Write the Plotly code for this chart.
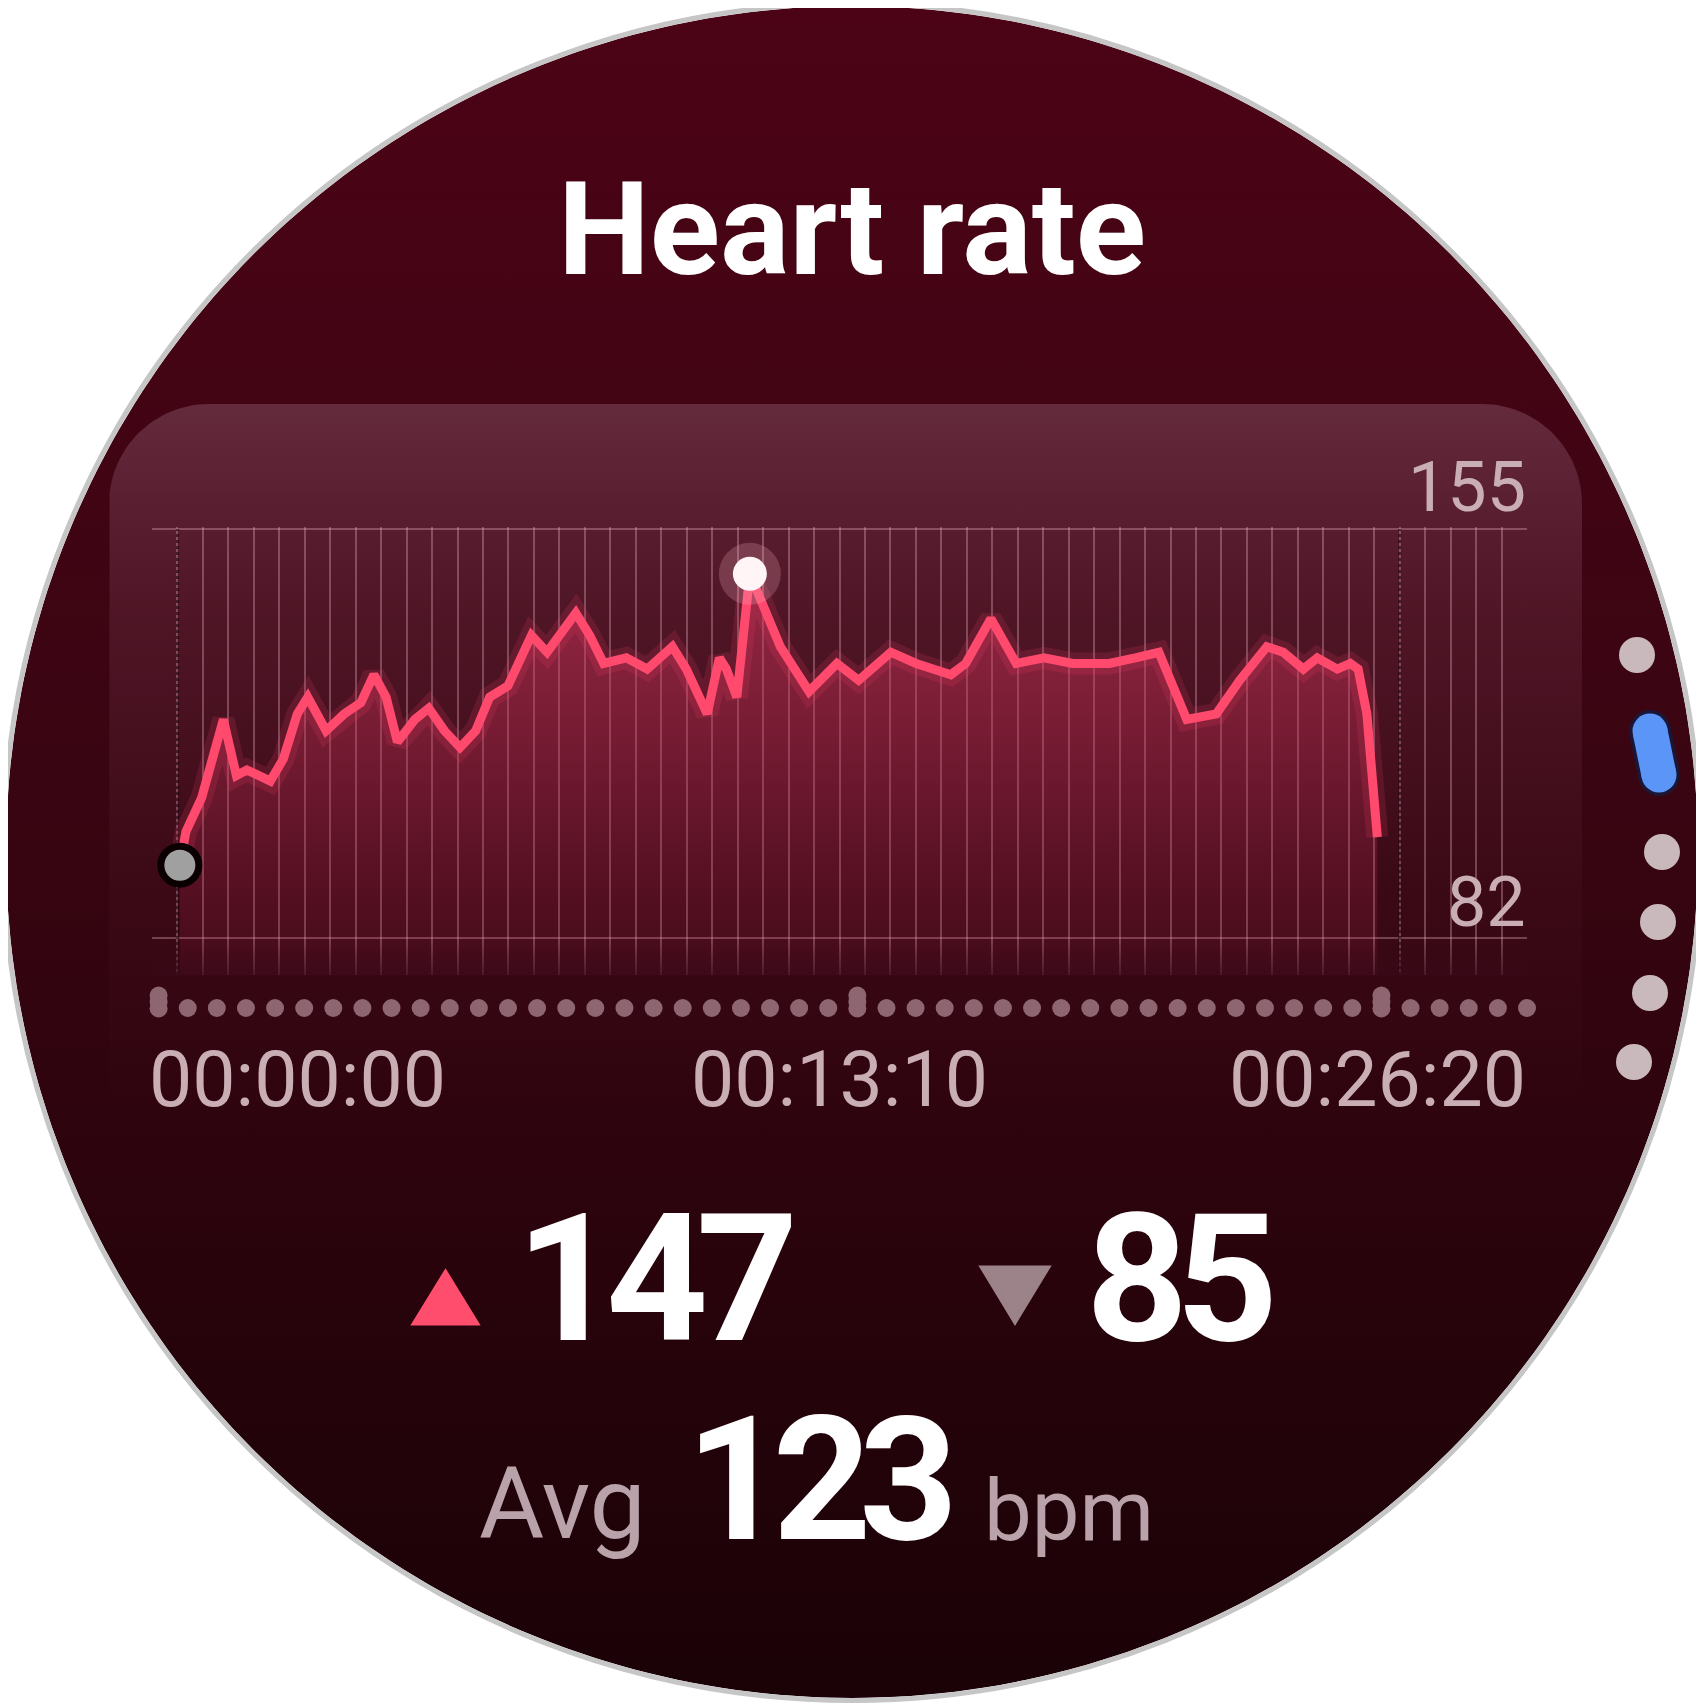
import numpy as np
import plotly.graph_objects as go

# ---------------- data ----------------
time_s = [32, 39, 57, 82, 97, 109, 136, 151, 167, 179, 200, 221, 240, 255, 269, 282,
          302, 318, 336, 354, 372, 388, 409, 422, 436, 454, 469, 487, 503, 519, 545,
          569, 598, 614, 638, 652, 660, 672, 687, 701, 722, 755, 787, 812, 849, 878,
          918, 935, 964, 993, 1025, 1058, 1080, 1100, 1130, 1157, 1189, 1223, 1250,
          1281, 1300, 1323, 1339, 1362, 1377, 1386, 1396, 1408]
heart_bpm = [95, 101, 107, 121, 111, 112, 110, 114, 122, 125, 119, 122, 124, 129, 125, 117,
             121, 123, 119, 116, 119, 125, 127, 131, 136, 133, 136, 140, 136, 131, 132,
             130, 134, 130, 122, 132, 130, 125, 147, 142, 134, 126, 131, 128, 133, 131,
             129, 131, 139, 131, 132, 131, 131, 131, 132, 133, 121, 122, 128,
             134, 133, 130, 132, 130, 131, 130, 122, 100]
y_ticks = [82, 155]
time_ticks = [0, 790, 1580]
time_labels = ["00:00:00", "00:13:10", "00:26:20"]
stat_max = 147
stat_min = 85
stat_avg = 123
title_text = "Heart rate"

# ---------------- geometry / style ----------------
W = 1704
OFF = 8                      # page body margin of the html page
CX = CY = 852
R = 846
X_MAX = 1580
N_GRID = 54
PXB = 409 / 73               # pixels per bpm
Y_MAX = 155.4
Y_MIN = 82 - (975 - 938) / PXB
PLOT_L, PLOT_R = 152, 1527
PLOT_T = 529 - (Y_MAX - 155) * PXB
PLOT_B = 975

LABEL_COL = "#c9aeb6"
LINE_COL = "#ff4a6e"
NUM_FONT = "Roboto"


def pxx(sx):      # screen x -> paper
    return (sx - OFF) / W


def pxy(sy):      # screen y -> paper
    return 1 - (sy - OFF) / W


def tight(txt, sp):
    return '<span style="letter-spacing:%dpx">%s</span>' % (sp, txt)


fig = go.Figure()

# --- watch face background (decoration axis, screen pixel coords) ---
th = np.linspace(0, 2 * np.pi, 361)
fig.add_trace(go.Scatter(
    x=CX + R * np.cos(th), y=CY + R * np.sin(th), mode="lines",
    line=dict(width=0), fill="toself",
    fillgradient=dict(type="vertical", start=0, stop=W,
                      colorscale=[[0, "#4c0316"], [0.45, "#3a0512"], [1, "#1a0207"]]),
    hoverinfo="skip", showlegend=False, xaxis="x", yaxis="y"))

# --- chart panel with rounded top corners ---
px0, px1, py0, py1, pr = 109, 1582, 404, 1120, 100
a1 = np.linspace(np.pi, 1.5 * np.pi, 30)
a2 = np.linspace(1.5 * np.pi, 2 * np.pi, 30)
pxs = [px0] + list(px0 + pr + pr * np.cos(a1)) + list(px1 - pr + pr * np.cos(a2)) + [px1, px0]
pys = [py1] + list(py0 + pr + pr * np.sin(a1)) + list(py0 + pr + pr * np.sin(a2)) + [py1, py1]
fig.add_trace(go.Scatter(
    x=pxs, y=pys, mode="lines", line=dict(width=0), fill="toself",
    fillgradient=dict(type="vertical", start=py0, stop=py1,
                      colorscale=[[0, "rgba(150,100,122,0.40)"], [0.3, "rgba(140,80,105,0.22)"],
                                  [0.65, "rgba(140,80,105,0.07)"], [1, "rgba(140,80,105,0)"]]),
    hoverinfo="skip", showlegend=False, xaxis="x", yaxis="y"))

# --- page indicator on the right ---
ind_x = [1637, 1662, 1658, 1650, 1634]
ind_y = [655, 852, 922, 993, 1062]
fig.add_trace(go.Scatter(x=ind_x, y=ind_y, mode="markers",
                         marker=dict(size=36, color="#c9b8bc"),
                         hoverinfo="skip", showlegend=False, xaxis="x", yaxis="y"))
pill_x = [1650, 1659]
pill_y = [731, 775]
for w, col in [(42, "#1c1636"), (35, "#5b95f7")]:
    fig.add_trace(go.Scatter(x=pill_x, y=pill_y, mode="lines+markers",
                             line=dict(width=w, color=col), marker=dict(size=w, color=col),
                             hoverinfo="skip", showlegend=False, xaxis="x", yaxis="y"))

# ---------------- chart (x2 / y2) ----------------
fig.add_trace(go.Scatter(
    x=time_s, y=heart_bpm, mode="lines", line=dict(width=0), fill="tozeroy",
    fillgradient=dict(type="vertical", start=Y_MIN, stop=max(heart_bpm),
                      colorscale=[[0, "rgba(190,40,80,0.10)"], [1, "rgba(220,55,95,0.50)"]]),
    hoverinfo="skip", showlegend=False, xaxis="x2", yaxis="y2"))

# fade of grid at the bottom of plot
fig.add_trace(go.Scatter(
    x=[0, X_MAX, X_MAX, 0, 0], y=[Y_MIN, Y_MIN, 81.5, 81.5, Y_MIN], mode="lines",
    line=dict(width=0), fill="toself",
    fillgradient=dict(type="vertical", start=Y_MIN, stop=81.5,
                      colorscale=[[0, "rgba(58,9,24,0.7)"], [1, "rgba(58,9,24,0)"]]),
    hoverinfo="skip", showlegend=False, xaxis="x2", yaxis="y2"))

# line glow + line
fig.add_trace(go.Scatter(x=time_s, y=heart_bpm, mode="lines",
                         line=dict(width=22, color="rgba(255,70,110,0.15)"),
                         hoverinfo="skip", showlegend=False, xaxis="x2", yaxis="y2"))
fig.add_trace(go.Scatter(x=time_s, y=heart_bpm, mode="lines",
                         line=dict(width=9, color=LINE_COL),
                         hoverinfo="skip", showlegend=False, xaxis="x2", yaxis="y2"))

# max point
imax = int(np.argmax(heart_bpm))
fig.add_trace(go.Scatter(x=[time_s[imax]], y=[heart_bpm[imax]], mode="markers",
                         marker=dict(size=62, color="rgba(255,180,200,0.22)"),
                         hoverinfo="skip", showlegend=False, xaxis="x2", yaxis="y2", cliponaxis=False))
fig.add_trace(go.Scatter(x=[time_s[imax]], y=[heart_bpm[imax]], mode="markers",
                         marker=dict(size=34, color="#fff4f6"),
                         hoverinfo="skip", showlegend=False, xaxis="x2", yaxis="y2", cliponaxis=False))
# start point
fig.add_trace(go.Scatter(x=[time_s[0]], y=[heart_bpm[0]], mode="markers",
                         marker=dict(size=38, color="#a0a0a0", line=dict(color="#0a0002", width=7)),
                         hoverinfo="skip", showlegend=False, xaxis="x2", yaxis="y2", cliponaxis=False))

# dotted time track under the chart (x3 / y3 : same time scale, thin band)
DOT_COUNT = 48
dot_t = np.linspace(7.6, X_MAX, DOT_COUNT)
tall_idx = [0, 24, 42]
small_t = [t for i, t in enumerate(dot_t) if i not in tall_idx]
fig.add_trace(go.Scatter(x=small_t, y=[0.54] * len(small_t), mode="markers",
                         marker=dict(size=18, color="#8e6672"), cliponaxis=False,
                         hoverinfo="skip", showlegend=False, xaxis="x3", yaxis="y3"))
tall_t = [dot_t[i] for i in tall_idx]
for yy in (0.79, 0.66, 0.53):
    fig.add_trace(go.Scatter(x=tall_t, y=[yy] * len(tall_t), mode="markers",
                             marker=dict(size=18, color="#8e6672"), cliponaxis=False,
                             hoverinfo="skip", showlegend=False, xaxis="x3", yaxis="y3"))

# ---------------- annotations ----------------
ann = []
ann.append(dict(text=title_text, x=pxx(852), y=pxy(229), xref="paper", yref="paper",
                xanchor="center", yanchor="middle", showarrow=False, borderpad=0,
                font=dict(family="Roboto", size=130, color="white", weight="bold")))
ylab_shift = [-6, 0]
for v, ys in zip(y_ticks, ylab_shift):
    ann.append(dict(text=str(v), x=X_MAX, y=v, xref="x2", yref="y2",
                    xanchor="right", yanchor="bottom", yshift=ys, showarrow=False, borderpad=0,
                    font=dict(family="Roboto", size=70, color=LABEL_COL)))
anchors = ["left", "center", "right"]
for t, lab, a in zip(time_ticks, time_labels, anchors):
    ann.append(dict(text=lab, x=t, y=pxy(1080), xref="x2", yref="paper",
                    xanchor=a, yanchor="middle", showarrow=False, borderpad=0,
                    xshift=(-4 if a == "left" else 0),
                    font=dict(family="Roboto", size=77, color=LABEL_COL)))
ann.append(dict(text=tight(stat_max, -12), x=pxx(515), y=pxy(1279), xref="paper", yref="paper",
                xanchor="left", yanchor="middle", showarrow=False, borderpad=0,
                font=dict(family=NUM_FONT, size=178, color="white", weight="bold")))
ann.append(dict(text=tight(stat_min, -12), x=pxx(1085), y=pxy(1279), xref="paper", yref="paper",
                xanchor="left", yanchor="middle", showarrow=False, borderpad=0,
                font=dict(family=NUM_FONT, size=178, color="white", weight="bold")))
ann.append(dict(text="Avg", x=pxx(478), y=pxy(1503), xref="paper", yref="paper",
                xanchor="left", yanchor="middle", showarrow=False, borderpad=0,
                font=dict(family="Roboto", size=100, color="#b9a2aa")))
ann.append(dict(text=tight(stat_avg, -12), x=pxx(685), y=pxy(1480), xref="paper", yref="paper",
                xanchor="left", yanchor="middle", showarrow=False, borderpad=0,
                font=dict(family=NUM_FONT, size=172, color="white", weight="bold")))
ann.append(dict(text="bpm", x=pxx(983), y=pxy(1511), xref="paper", yref="paper",
                xanchor="left", yanchor="middle", showarrow=False, borderpad=0,
                font=dict(family="Roboto", size=85, color="#b9a2aa")))

# ---------------- layout ----------------
grid_col = "rgba(235,175,195,0.34)"
shapes = [
    dict(type="circle", xref="x", yref="y", x0=CX - 848.5, x1=CX + 848.5,
         y0=CY - 848.5, y1=CY + 848.5, line=dict(color="#c6c6c6", width=5)),
    # max / min indicator triangles
    dict(type="path", xref="x", yref="y", path="M 413,1324 L 478,1324 L 445.5,1271 Z",
         fillcolor="#ff4d6d", line=dict(color="#ff4d6d", width=3)),
    dict(type="path", xref="x", yref="y", path="M 981,1267 L 1049,1267 L 1015,1323 Z",
         fillcolor="#9c8289", line=dict(color="#9c8289", width=3)),
]
# dark dotted grid lines marking the start / end of the recording
for k in (1, 49):
    shapes.append(dict(type="line", xref="x2", yref="y2", layer="between",
                       x0=k * X_MAX / N_GRID, x1=k * X_MAX / N_GRID, y0=Y_MIN, y1=155,
                       line=dict(color="rgba(25,0,8,0.6)", width=3, dash="dot")))

fig.update_layout(
    width=W, height=W, margin=dict(l=0, r=0, t=0, b=0),
    paper_bgcolor="white", plot_bgcolor="rgba(0,0,0,0)",
    showlegend=False, annotations=ann, shapes=shapes,
    xaxis=dict(domain=[0, 1], range=[OFF, W + OFF], visible=False, fixedrange=True),
    yaxis=dict(domain=[0, 1], range=[W + OFF, OFF], visible=False, fixedrange=True),
    xaxis2=dict(domain=[pxx(PLOT_L), pxx(PLOT_R)], anchor="y2", range=[0, X_MAX],
                showgrid=True, gridcolor=grid_col, gridwidth=2, tick0=0, dtick=X_MAX / N_GRID,
                showticklabels=False, zeroline=False, showline=False, ticks="", fixedrange=True),
    yaxis2=dict(domain=[pxy(PLOT_B), pxy(PLOT_T)], anchor="x2", range=[Y_MIN, Y_MAX],
                showgrid=True, gridcolor=grid_col, gridwidth=2, tickvals=y_ticks,
                showticklabels=False, zeroline=False, showline=False, ticks="", fixedrange=True),
    xaxis3=dict(domain=[pxx(PLOT_L), pxx(PLOT_R)], anchor="y3", range=[0, X_MAX],
                visible=False, fixedrange=True),
    yaxis3=dict(domain=[pxy(1035), pxy(985)], anchor="x3", range=[0, 1],
                visible=False, fixedrange=True),
)

fig.write_html("out.html")
